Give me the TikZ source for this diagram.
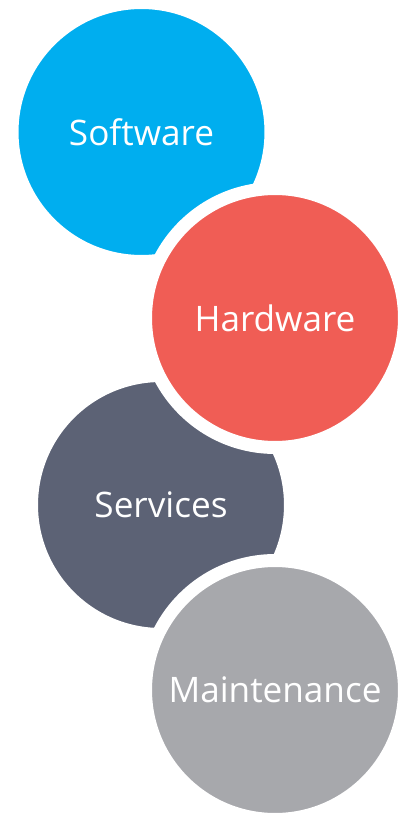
\documentclass[tikz,border=0pt]{standalone}
\usepackage{fontspec}
\setmainfont{Open Sans}
\usepackage{tikz}
\usetikzlibrary{positioning}

\definecolor{softblue}{HTML}{00AEEF}
\definecolor{hardred}{HTML}{F05D55}
\definecolor{serviceslate}{HTML}{5C6275}
\definecolor{maintgrey}{HTML}{A7A8AC}

\begin{document}
\begin{tikzpicture}
[x=0.02cm, y=-0.02cm,
% STYLES
% The bubble style is used to draw each circle with its white ring
bubble/.style={circle, draw=white, line width=0.26cm, minimum size=5.18cm, inner sep=0pt, text=white, font=\fontsize{20}{24}\selectfont}]

\useasboundingbox (0,0) rectangle (407,813);

% Draw bubbles (hardware and maintenance lie on top)
\node [bubble, fill=softblue] (software) at (141.5,132) {Software};
\node [bubble, fill=serviceslate] (services) at (161,505) {Services};
\node [bubble, fill=hardred] (hardware) at (275,318) {Hardware};
\node [bubble, fill=maintgrey] (maintenance) at (275,690) {Maintenance};

\end{tikzpicture}
\end{document}
